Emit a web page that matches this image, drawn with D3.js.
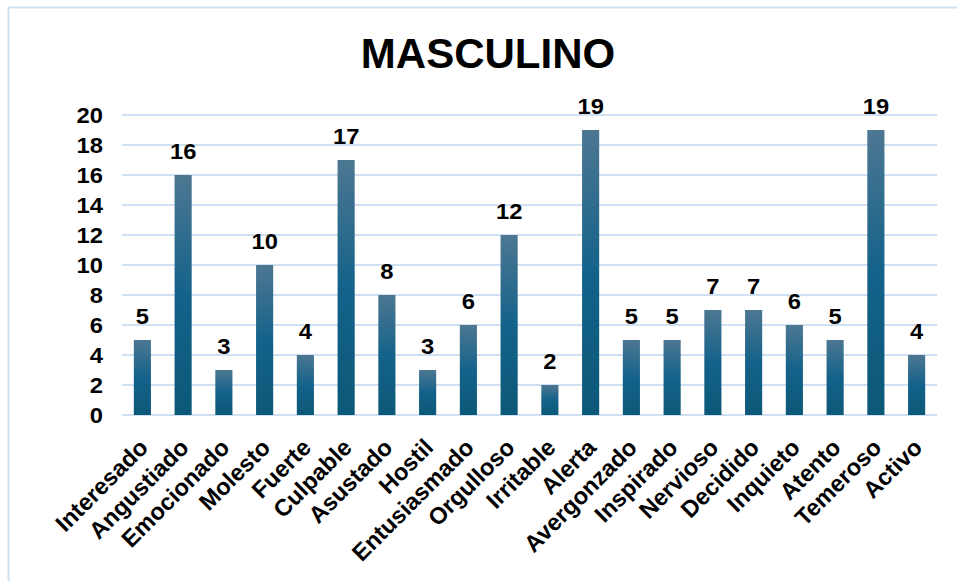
<!DOCTYPE html>
<html>
<head>
<meta charset="utf-8">
<script src="https://cdn.jsdelivr.net/npm/d3@7"></script>
<style>
  body { margin: 0; background: #fff; }
  svg { display: block; font-family: "Liberation Sans", Arial, sans-serif; }
</style>
</head>
<body>
<svg width="957" height="581"></svg>
<script>
var categories = ["Interesado", "Angustiado", "Emocionado", "Molesto", "Fuerte", "Culpable",
  "Asustado", "Hostil", "Entusiasmado", "Orgulloso", "Irritable", "Alerta", "Avergonzado",
  "Inspirado", "Nervioso", "Decidido", "Inquieto", "Atento", "Temeroso", "Activo"];
var values = [5, 16, 3, 10, 4, 17, 8, 3, 6, 12, 2, 19, 5, 5, 7, 7, 6, 5, 19, 4];
var yTicks = [0, 2, 4, 6, 8, 10, 12, 14, 16, 18, 20];

var svg = d3.select("svg"),
  width = +svg.attr("width"),
  height = +svg.attr("height");

var margin = {left: 122, right: 20, top: 115, bottom: 166};

// outer chart frame (only top/left edge visible)
svg.append("rect")
  .attr("x", 8.5).attr("y", 7.5)
  .attr("width", 1200).attr("height", 1000)
  .attr("fill", "none")
  .attr("stroke", "#cfe0f3")
  .attr("stroke-width", 2);

var defs = svg.append("defs");
var grad = defs.append("linearGradient")
  .attr("id", "barGrad")
  .attr("x1", 0).attr("y1", 0).attr("x2", 0).attr("y2", 1);
grad.append("stop").attr("offset", "0%").attr("stop-color", "#4d7792");
grad.append("stop").attr("offset", "50%").attr("stop-color", "#14628a");
grad.append("stop").attr("offset", "100%").attr("stop-color", "#0c5878");

var x = d3.scaleBand()
  .domain(categories)
  .range([margin.left, width - margin.right])
  .paddingInner(0.58)
  .paddingOuter(0.29);

var y = d3.scaleLinear()
  .domain([0, 20])
  .range([height - margin.bottom, margin.top]);

// gridlines
svg.append("g")
  .selectAll("line")
  .data(yTicks)
  .enter().append("line")
  .attr("x1", margin.left)
  .attr("x2", width - margin.right)
  .attr("y1", function (d) { return y(d); })
  .attr("y2", function (d) { return y(d); })
  .attr("stroke", "#cfe0f3")
  .attr("stroke-width", 2);

// y axis labels (text a bit wider than the font, as in the original)
var yAxis = d3.axisLeft(y).tickValues(yTicks).tickSize(0).tickPadding(0);
svg.append("g")
  .attr("transform", "translate(" + margin.left + ",0)")
  .call(yAxis)
  .call(function (g) { g.select(".domain").remove(); })
  .selectAll("text")
  .attr("x", 0)
  .attr("font-size", "22px")
  .attr("font-weight", "bold")
  .attr("font-family", "Liberation Sans, Arial, sans-serif")
  .attr("fill", "#000")
  .attr("transform", "translate(-19,0) scale(1.08,1)");

// bars
svg.append("g")
  .selectAll("rect")
  .data(values)
  .enter().append("rect")
  .attr("x", function (d, i) { return x(categories[i]); })
  .attr("y", function (d) { return y(d); })
  .attr("width", x.bandwidth())
  .attr("height", function (d) { return y(0) - y(d); })
  .attr("fill", "url(#barGrad)");

// value labels
svg.append("g")
  .selectAll("text")
  .data(values)
  .enter().append("text")
  .attr("transform", function (d, i) {
    return "translate(" + (x(categories[i]) + x.bandwidth() / 2) + "," + (y(d) - 16) + ") scale(1.08,1)";
  })
  .attr("text-anchor", "middle")
  .attr("font-size", "22px")
  .attr("font-weight", "bold")
  .text(function (d) { return d; });

// x axis labels, rotated
var xAxis = d3.axisBottom(x).tickSize(0).tickPadding(0);
svg.append("g")
  .attr("transform", "translate(0," + y(0) + ")")
  .call(xAxis)
  .call(function (g) { g.select(".domain").remove(); })
  .selectAll("text")
  .attr("font-size", "23.5px")
  .attr("font-weight", "bold")
  .attr("font-family", "Liberation Sans, Arial, sans-serif")
  .attr("fill", "#000")
  .attr("text-anchor", "end")
  .attr("dy", 0)
  .attr("y", 0)
  .attr("transform", "translate(7,34) rotate(-45)");

// title
svg.append("text")
  .attr("x", 488)
  .attr("y", 68)
  .attr("text-anchor", "middle")
  .attr("font-size", "42px")
  .attr("font-weight", "bold")
  .text("MASCULINO");
</script>
</body>
</html>
